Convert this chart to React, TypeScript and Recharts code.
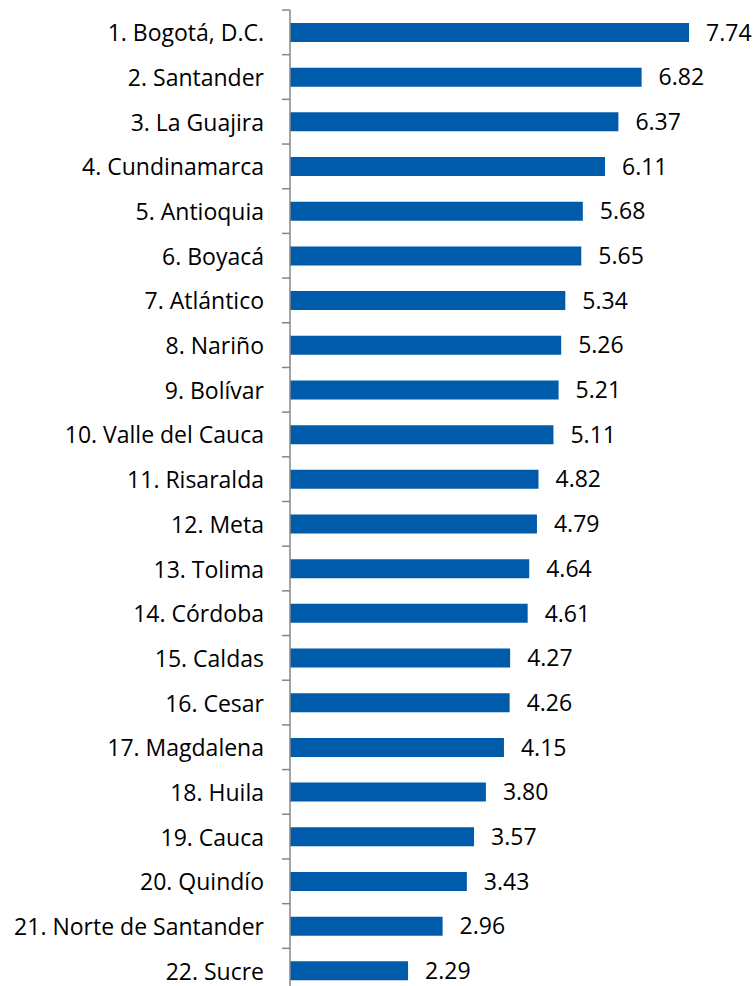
import { Bar, BarChart, LabelList, XAxis, YAxis } from "recharts";

const REGIONS = [
  "1. Bogotá, D.C.",
  "2. Santander",
  "3. La Guajira",
  "4. Cundinamarca",
  "5. Antioquia",
  "6. Boyacá",
  "7. Atlántico",
  "8. Nariño",
  "9. Bolívar",
  "10. Valle del Cauca",
  "11. Risaralda",
  "12. Meta",
  "13. Tolima",
  "14. Córdoba",
  "15. Caldas",
  "16. Cesar",
  "17. Magdalena",
  "18. Huila",
  "19. Cauca",
  "20. Quindío",
  "21. Norte de Santander",
  "22. Sucre",
];

const VALUES = [
  7.74, 6.82, 6.37, 6.11, 5.68, 5.65, 5.34, 5.26, 5.21, 5.11, 4.82, 4.79, 4.64, 4.61, 4.27,
  4.26, 4.15, 3.8, 3.57, 3.43, 2.96, 2.29,
];

const data = REGIONS.map((label, i) => ({ label, value: VALUES[i] }));

const FONT = "'Open Sans', sans-serif";
const FONT_SIZE = 23;
const AXIS_GRAY = "#868686";
const BAR_BLUE = "#005BAB";

const CHART_H = 993;
const TOP = 10;
const BAND = (CHART_H - TOP) / REGIONS.length;

// Excel-style category tick: boundary tick marks, label right-aligned
function CategoryTick(props: any) {
  const { x, y, payload, index } = props;
  const isLast = index === REGIONS.length - 1;
  return (
    <g>
      <line x1={x - 8} x2={x} y1={y - BAND / 2} y2={y - BAND / 2} stroke={AXIS_GRAY} strokeWidth={1.5} />
      {isLast && (
        <line x1={x - 8} x2={x} y1={y + BAND / 2} y2={y + BAND / 2} stroke={AXIS_GRAY} strokeWidth={1.5} />
      )}
      <text x={x - 26} y={y} textAnchor="end" dominantBaseline="central" fill="#000" fontSize={FONT_SIZE} fontFamily={FONT}>
        {payload.value}
      </text>
    </g>
  );
}

export default function App() {
  return (
    <div style={{ position: "absolute", left: 0, top: 0, width: 756, height: 986, overflow: "hidden", background: "#fff" }}>
      <BarChart
        width={756}
        height={CHART_H}
        data={data}
        layout="vertical"
        margin={{ top: TOP, right: 2, bottom: 0, left: 0 }}
      >
        <XAxis type="number" domain={[0, 9]} hide />
        <YAxis
          type="category"
          dataKey="label"
          width={290}
          axisLine={{ stroke: AXIS_GRAY, strokeWidth: 1.5 }}
          tickLine={false}
          tickSize={0}
          tickMargin={0}
          interval={0}
          tick={<CategoryTick />}
        />
        <Bar dataKey="value" fill={BAR_BLUE} barSize={19} isAnimationActive={false}>
          <LabelList
            dataKey="value"
            position="right"
            offset={17}
            formatter={(v: any) => Number(v).toFixed(2)}
            style={{ fill: "#000", fontSize: FONT_SIZE, fontFamily: FONT }}
          />
        </Bar>
      </BarChart>
    </div>
  );
}
